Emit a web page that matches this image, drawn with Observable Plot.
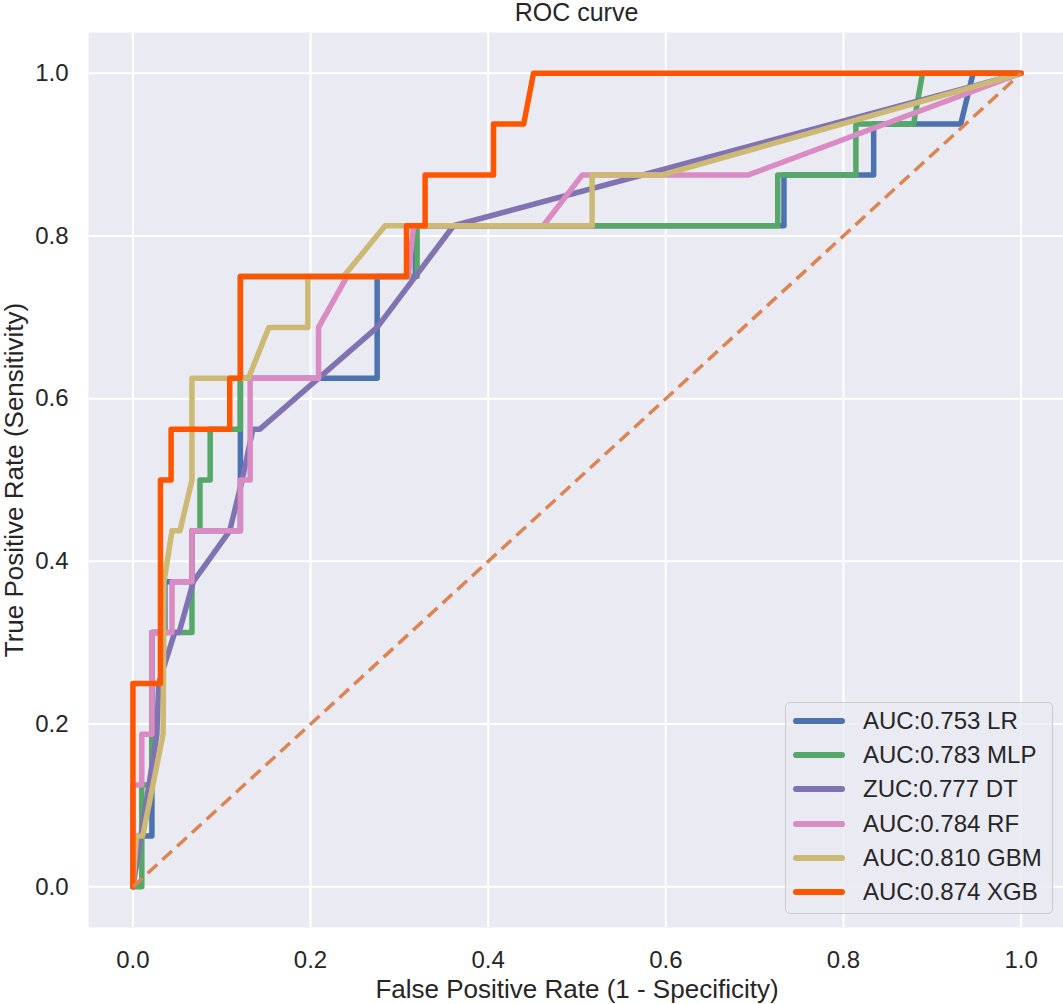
<!DOCTYPE html>
<html><head><meta charset="utf-8">
<script src="https://cdn.jsdelivr.net/npm/d3@7"></script>
<script src="https://cdn.jsdelivr.net/npm/@observablehq/plot@0.6"></script>
<style>
html,body{margin:0;padding:0;background:#fff;overflow:hidden;}
body{font-family:"Liberation Sans",Arial,Helvetica,sans-serif;color:#262626;width:1063px;height:1004px;position:relative;}
#title{height:32px;margin-left:88px;width:977px;text-align:center;font-size:25px;line-height:24px;white-space:nowrap;}
#legend{position:absolute;left:785px;top:702px;width:266px;height:210px;border:1px solid #cccccc;border-radius:5px;background:rgba(234,234,242,0.8);}
.row{position:absolute;left:0;height:34px;display:flex;align-items:center;}
.sw{width:52px;height:6px;border-radius:3px;margin-left:7px;margin-right:18px;}
.lab{font-size:24px;white-space:nowrap;}
</style></head><body>
<div id="title"></div>
<div id="chart"></div>
<div id="legend"></div>
<script>
const titleText = "ROC curve";
const xLabel = "False Positive Rate (1 - Specificity)";
const yLabel = "True Positive Rate (Sensitivity)";

const models = ["LR", "MLP", "DT", "RF", "GBM", "XGB"];
const legendLabels = ["AUC:0.753 LR", "AUC:0.783 MLP", "ZUC:0.777 DT", "AUC:0.784 RF", "AUC:0.810 GBM", "AUC:0.874 XGB"];
const colors = ["#4C72B0", "#55A868", "#8172B2", "#DA8BC3", "#CCB974", "#FF5500"];

const xTicks = [0, 0.2, 0.4, 0.6, 0.8, 1.0];
const yTicks = [0, 0.2, 0.4, 0.6, 0.8, 1.0];

const lrFpr = [0, 0.004, 0.0214, 0.0214, 0.036, 0.036, 0.0665, 0.0665, 0.121, 0.121, 0.275, 0.275, 0.318, 0.318, 0.733, 0.733, 0.834, 0.834, 0.932, 0.946, 1];
const lrTpr = [0, 0.0625, 0.0625, 0.3125, 0.3125, 0.375, 0.375, 0.4375, 0.4375, 0.625, 0.625, 0.75, 0.75, 0.8125, 0.8125, 0.875, 0.875, 0.9375, 0.9375, 1, 1];

const mlpFpr = [0, 0.010, 0.010, 0.0214, 0.0214, 0.0665, 0.0665, 0.0665, 0.0755, 0.0755, 0.087, 0.087, 0.121, 0.121, 0.320, 0.320, 0.726, 0.726, 0.814, 0.814, 0.879, 0.889, 1];
const mlpTpr = [0, 0, 0.125, 0.125, 0.3125, 0.3125, 0.375, 0.4375, 0.4375, 0.5, 0.5, 0.5625, 0.5625, 0.75, 0.75, 0.8125, 0.8125, 0.875, 0.875, 0.9375, 0.9375, 1, 1];

const dtFpr = [0, 0.027, 0.029, 0.047, 0.052, 0.068, 0.109, 0.123, 0.135, 0.143, 0.275, 0.361, 1];
const dtTpr = [0, 0.1875, 0.25, 0.3125, 0.3125, 0.375, 0.4375, 0.5, 0.5625, 0.5625, 0.6875, 0.8125, 1];

const rfFpr = [0, 0, 0.010, 0.010, 0.0214, 0.0214, 0.044, 0.044, 0.0665, 0.0665, 0.121, 0.121, 0.132, 0.132, 0.209, 0.209, 0.241, 0.310, 0.316, 0.462, 0.506, 0.693, 1];
const rfTpr = [0, 0.125, 0.125, 0.1875, 0.1875, 0.3125, 0.3125, 0.375, 0.375, 0.4375, 0.4375, 0.5, 0.5, 0.625, 0.625, 0.6875, 0.75, 0.75, 0.8125, 0.8125, 0.875, 0.875, 1];

const gbmFpr = [0, 0.004, 0.011, 0.034, 0.035, 0.044, 0.053, 0.0665, 0.0665, 0.13, 0.153, 0.197, 0.197, 0.237, 0.284, 0.517, 0.517, 0.596, 1];
const gbmTpr = [0, 0.0625, 0.0625, 0.1875, 0.375, 0.4375, 0.4375, 0.5, 0.625, 0.625, 0.6875, 0.6875, 0.75, 0.75, 0.8125, 0.8125, 0.875, 0.875, 1];

const xgbFpr = [0, 0, 0.031, 0.031, 0.043, 0.043, 0.109, 0.109, 0.121, 0.121, 0.308, 0.308, 0.329, 0.329, 0.406, 0.406, 0.440, 0.451, 1];
const xgbTpr = [0, 0.25, 0.25, 0.5, 0.5, 0.5625, 0.5625, 0.625, 0.625, 0.75, 0.75, 0.8125, 0.8125, 0.875, 0.875, 0.9375, 0.9375, 1, 1];

const diagFpr = [0, 1];
const diagTpr = [0, 1];

const series = [[lrFpr, lrTpr], [mlpFpr, mlpTpr], [dtFpr, dtTpr], [rfFpr, rfTpr], [gbmFpr, gbmTpr], [xgbFpr, xgbTpr]];
const rows = [];
series.forEach(([f, t], i) => f.forEach((v, j) => rows.push({model: models[i], fpr: v, tpr: t[j]})));
const diag = diagFpr.map((v, j) => ({fpr: v, tpr: diagTpr[j]}));

const fmt = d3.format(".1f");

const chart = Plot.plot({
  width: 1063,
  height: 972,
  marginLeft: 88,
  marginRight: -2,
  marginTop: 0,
  marginBottom: 77,
  x: {domain: [-0.05, 1.05]},
  y: {domain: [-0.05, 1.05]},
  color: {domain: models, range: colors},
  style: {fontFamily: '"Liberation Sans", Arial, Helvetica, sans-serif', fontSize: "24px", color: "#262626", background: "transparent", overflow: "visible"},
  marks: [
    Plot.frame({fill: "#EAEAF2", stroke: "none"}),
    Plot.gridX({ticks: xTicks, stroke: "white", strokeOpacity: 1, strokeWidth: 2}),
    Plot.gridY({ticks: yTicks, stroke: "white", strokeOpacity: 1, strokeWidth: 2}),
    Plot.axisX({ticks: xTicks, tickSize: 0, tickPadding: 23, tickFormat: fmt, label: null, fontSize: 24}),
    Plot.axisY({ticks: yTicks, tickSize: 0, tickPadding: 20, tickFormat: fmt, label: null, fontSize: 24}),
    Plot.line(rows, {x: "fpr", y: "tpr", z: "model", stroke: "model", strokeWidth: 5.5, strokeLinejoin: "round", strokeLinecap: "round"}),
    Plot.line(diag, {x: "fpr", y: "tpr", stroke: "#DD8452", strokeWidth: 3.5, strokeDasharray: "13,7", strokeLinecap: "butt"}),
    Plot.text([xLabel], {text: d => d, frameAnchor: "bottom", dy: 70, lineAnchor: "bottom", textAnchor: "middle", fontSize: 26}),
    Plot.text([yLabel], {text: d => d, frameAnchor: "left", dx: -66, rotate: -90, textAnchor: "middle", lineAnchor: "bottom", fontSize: 26})
  ]
});
document.getElementById("chart").appendChild(chart);
document.getElementById("title").textContent = titleText;

const legend = document.getElementById("legend");
legendLabels.forEach((lab, i) => {
  const row = document.createElement("div");
  row.className = "row";
  row.style.top = (1 + i * 34.2) + "px";
  const sw = document.createElement("div");
  sw.className = "sw";
  sw.style.background = colors[i];
  const tx = document.createElement("span");
  tx.className = "lab";
  tx.textContent = lab;
  row.appendChild(sw);
  row.appendChild(tx);
  legend.appendChild(row);
});
</script></body></html>
